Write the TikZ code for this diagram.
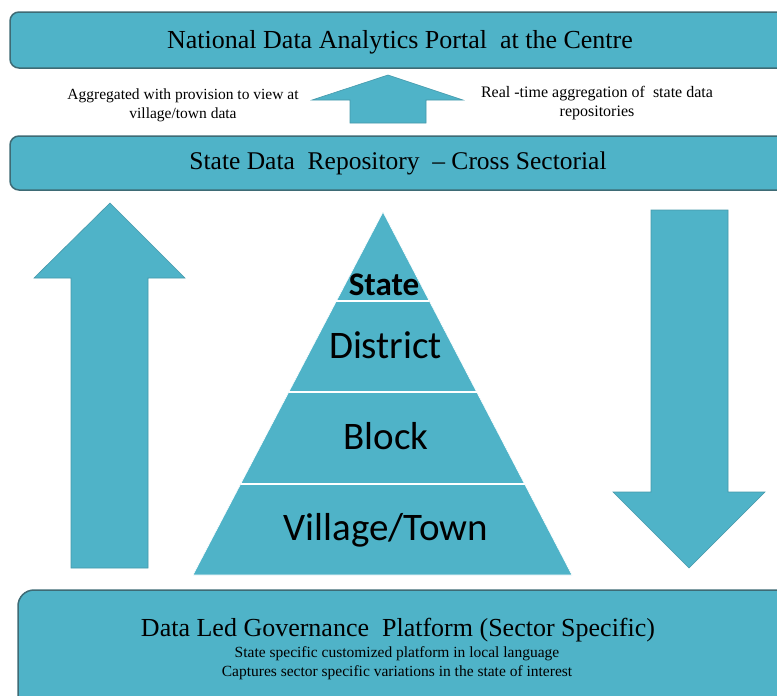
\documentclass[tikz,border=0pt]{standalone}
\usepackage{fontspec}
\setmainfont{Liberation Serif}
\newfontfamily\calfont{Carlito}
\usetikzlibrary{calc}
\definecolor{tealfill}{HTML}{4FB3C8}
\definecolor{boxedge}{HTML}{3E6B75}
\definecolor{arrowedge}{HTML}{4699AB}
\begin{document}
\begin{tikzpicture}[x=1pt,y=-1pt,
  box/.style={fill=tealfill, draw=boxedge, line width=1.5pt, rounded corners=9pt},
  bigarrow/.style={fill=tealfill, draw=arrowedge, line width=0.6pt},
  title/.style={font=\fontsize{26}{30}\selectfont, inner sep=0pt},
  note/.style={font=\fontsize{15.5}{19}\selectfont, align=center, inner sep=0pt},
  level/.style={font=\calfont\fontsize{39}{42}\selectfont, inner sep=0pt, anchor=base}]
\clip (0,0) rectangle (777,696);
\fill[white] (0,0) rectangle (777,696);

% top box
\draw[box] (10,12) rectangle (800,68);
\node[title] (portal) at (400,42) {National Data Analytics Portal\ \ at the Centre};

% middle arrow
\draw[bigarrow] (388,75) -- (463,100) -- (426,100) -- (426,123) -- (350,123) -- (350,100) -- (312,100) -- cycle;
\node[note] (leftnote) at (183,105) {Aggregated with provision to view at\\village/town data};
\node[note, font=\fontsize{16}{19}\selectfont] (rightnote) at (597,103) {Real -time aggregation of\ \ state data\\repositories};

% state box
\draw[box] (10,136) rectangle (800,190);
\node[title, font=\fontsize{25.5}{30}\selectfont] (repo) at (398,163) {State Data\ \ Repository\ \ -- Cross Sectorial};

% left up arrow
\draw[bigarrow] (110,203) -- (185,278) -- (148,278) -- (148,568) -- (71,568) -- (71,278) -- (34,278) -- cycle;

% right down arrow
\draw[bigarrow] (651,210) -- (728,210) -- (728,492) -- (765,492) -- (689,568) -- (613,492) -- (651,492) -- cycle;

% pyramid
\coordinate (apex) at (383,212);
\coordinate (bl) at (193,575);
\coordinate (br) at (572,575);
\fill[tealfill] (apex) -- (br) -- (bl) -- cycle;
\draw[white, line width=0.6pt] (apex) -- (br) -- (bl) -- cycle;
\foreach \t in {0.245,0.496,0.749}{
  \draw[white, line width=1.6pt] ($(apex)!\t!(bl)$) -- ($(apex)!\t!(br)$);
}
\node[level, font=\calfont\bfseries\fontsize{33}{36}\selectfont] (lstate) at (384,295) {State};
\node[level] (ldistrict) at (385.5,358) {District};
\node[level] (lblock) at (386,449) {Block};
\node[level] (lvillage) at (386,540) {Village/Town};

% bottom box
\draw[box, rounded corners=16pt] (18,590) rectangle (800,730);
\node[title] (platform) at (398,630) {Data Led Governance\ \ Platform (Sector Specific)};
\node[note] (sub) at (397,663) {State specific customized platform in local language\\Captures sector specific variations in the state of interest};
\end{tikzpicture}
\end{document}
